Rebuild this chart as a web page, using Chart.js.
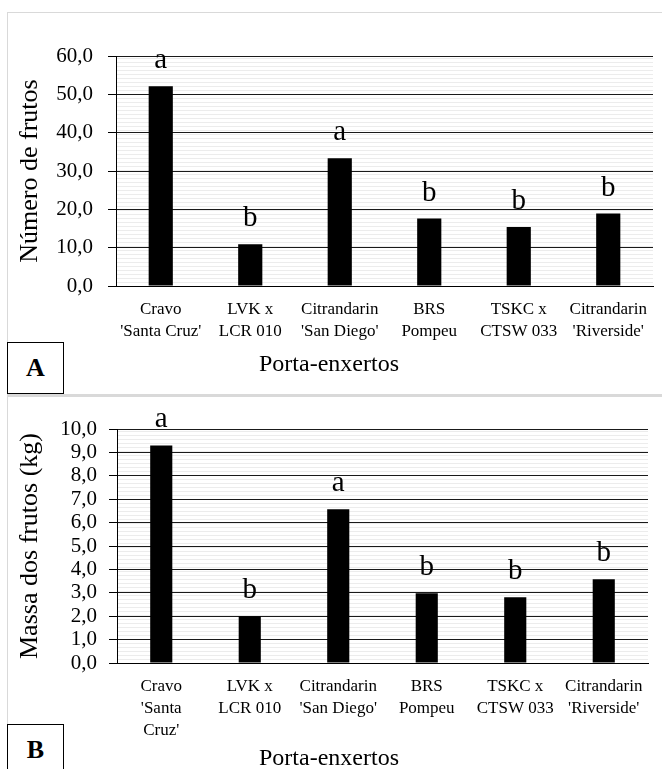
<!DOCTYPE html>
<html>
<head>
<meta charset="utf-8">
<script src="https://cdn.jsdelivr.net/npm/chart.js@4.4.1/dist/chart.umd.min.js"></script>
<style>
  html, body { margin: 0; padding: 0; background: #fff; }
  body { width: 662px; height: 769px; overflow: hidden; position: relative;
         font-family: "Liberation Serif", "Times New Roman", serif; color: #000; }
  .panel { position: absolute; left: 7px; border: 1px solid #d9d9d9; border-right: none; box-sizing: border-box; }
  #panelA { top: 12px; width: 660px; height: 384px; border-bottom: 2px solid #d9d9d9; }
  #panelB { top: 395px; width: 660px; height: 400px; border-top: 2px solid #d9d9d9; }
  canvas { position: absolute; left: 0; }
  #chartA { top: 0; }
  #chartB { top: 395px; }
  .tag { position: absolute; left: 7px; width: 57px; height: 52px; box-sizing: border-box;
         border: 1px solid #000; background: #fff; font-weight: bold; font-size: 26px;
         display: flex; align-items: center; justify-content: center; }
  #tagA { top: 342px; }
  #tagB { top: 724px; }
  .xtitle { position: absolute; left: 229px; width: 200px; text-align: center; font-size: 24px; line-height: 28px; }
  #xtA { top: 349px; }
  #xtB { top: 743px; }
</style>
</head>
<body>
<div class="panel" id="panelA"></div>
<div class="panel" id="panelB"></div>
<canvas id="chartA" width="662" height="395"></canvas>
<canvas id="chartB" width="662" height="374"></canvas>
<div class="tag" id="tagA">A</div>
<div class="tag" id="tagB">B</div>
<div class="xtitle" id="xtA">Porta-enxertos</div>
<div class="xtitle" id="xtB">Porta-enxertos</div>

<script>
// Rootstocks (porta-enxertos), wrapped as they appear under each panel
const rootstocksA = [
  ["Cravo", "'Santa Cruz'"],
  ["LVK x", "LCR 010"],
  ["Citrandarin", "'San Diego'"],
  ["BRS", "Pompeu"],
  ["TSKC x", "CTSW 033"],
  ["Citrandarin", "'Riverside'"]
];
const rootstocksB = [
  ["Cravo", "'Santa", "Cruz'"],
  ["LVK x", "LCR 010"],
  ["Citrandarin", "'San Diego'"],
  ["BRS", "Pompeu"],
  ["TSKC x", "CTSW 033"],
  ["Citrandarin", "'Riverside'"]
];

// Number of fruits per plant
const fruitCount = [52.1, 10.9, 33.3, 17.6, 15.4, 18.9];
// Mass of fruits per plant (kg)
const fruitMass = [9.3, 2.0, 6.57, 2.98, 2.81, 3.58];

// Mean-separation letters
const lettersCount = ["a", "b", "a", "b", "b", "b"];
const lettersMass = ["a", "b", "a", "b", "b", "b"];

// Axis settings
const countAxis = { max: 60, step: 10 };
const massAxis = { max: 10, step: 1 };

const SERIF = "'Liberation Serif', 'Times New Roman', serif";

// Light horizontal hatch behind the plot area
const hatchPlugin = {
  id: 'hatch',
  beforeDraw(chart) {
    const { ctx, chartArea: a } = chart;
    ctx.save();
    ctx.fillStyle = '#ececec';
    for (let y = a.top + 2; y < a.bottom; y += 4) {
      ctx.fillRect(a.left, Math.round(y), a.right - a.left, 1);
    }
    ctx.restore();
  }
};

// Letters above each bar
const lettersPlugin = {
  id: 'barLetters',
  afterDatasetsDraw(chart, args, opts) {
    const { ctx } = chart;
    const meta = chart.getDatasetMeta(0);
    ctx.save();
    ctx.font = '29px ' + SERIF;
    ctx.fillStyle = '#000';
    ctx.textAlign = 'center';
    ctx.textBaseline = 'alphabetic';
    meta.data.forEach((bar, i) => {
      ctx.fillText(opts.letters[i], bar.x, bar.y - 18);
    });
    ctx.restore();
  }
};

function fmt(v) { return v.toFixed(1).replace('.', ','); }

function makeChart(id, labels, values, letters, axis, yTitle, area, tickPad, barPct) {
  const canvas = document.getElementById(id);
  const W = canvas.width, H = canvas.height;
  return new Chart(canvas, {
    type: 'bar',
    data: {
      labels: labels,
      datasets: [{
        data: values,
        backgroundColor: '#000',
        borderWidth: 0,
        barPercentage: barPct,
        categoryPercentage: 1
      }]
    },
    options: {
      responsive: false,
      animation: false,
      devicePixelRatio: 1,
      layout: { padding: { left: 0, top: area.top, right: W - area.right, bottom: 0 } },
      plugins: {
        legend: { display: false },
        tooltip: { enabled: false },
        barLetters: { letters: letters }
      },
      scales: {
        x: {
          grid: { display: false, drawTicks: false },
          border: { display: true, color: '#000', width: 1 },
          ticks: {
            color: '#000', autoSkip: false, maxRotation: 0, minRotation: 0, padding: 12,
            font: { family: SERIF, size: 17, lineHeight: 1.3 }
          },
          afterFit(s) { s.height = H - area.bottom; }
        },
        y: {
          min: 0, max: axis.max,
          grid: { color: '#1a1a1a', lineWidth: 1, tickColor: '#000', tickLength: 8, drawTicks: true },
          border: { display: true, color: '#000', width: 1 },
          ticks: {
            stepSize: axis.step, autoSkip: false, color: '#000', padding: tickPad,
            font: { family: SERIF, size: 21 },
            callback: (v) => fmt(v)
          },
          title: {
            display: true, text: yTitle, color: '#000',
            font: { family: SERIF, size: 26, lineHeight: 1.2 },
            padding: { top: 15, bottom: 0 }
          },
          afterFit(s) { s.width = area.left; }
        }
      }
    },
    plugins: [hatchPlugin, lettersPlugin]
  });
}

makeChart('chartA', rootstocksA, fruitCount, lettersCount, countAxis, 'Número de frutos',
  { left: 116, top: 56, right: 653, bottom: 286 }, 15, 0.27);
makeChart('chartB', rootstocksB, fruitMass, lettersMass, massAxis, 'Massa dos frutos (kg)',
  { left: 117, top: 34, right: 648, bottom: 268 }, 12, 0.25);
</script>
</body>
</html>
